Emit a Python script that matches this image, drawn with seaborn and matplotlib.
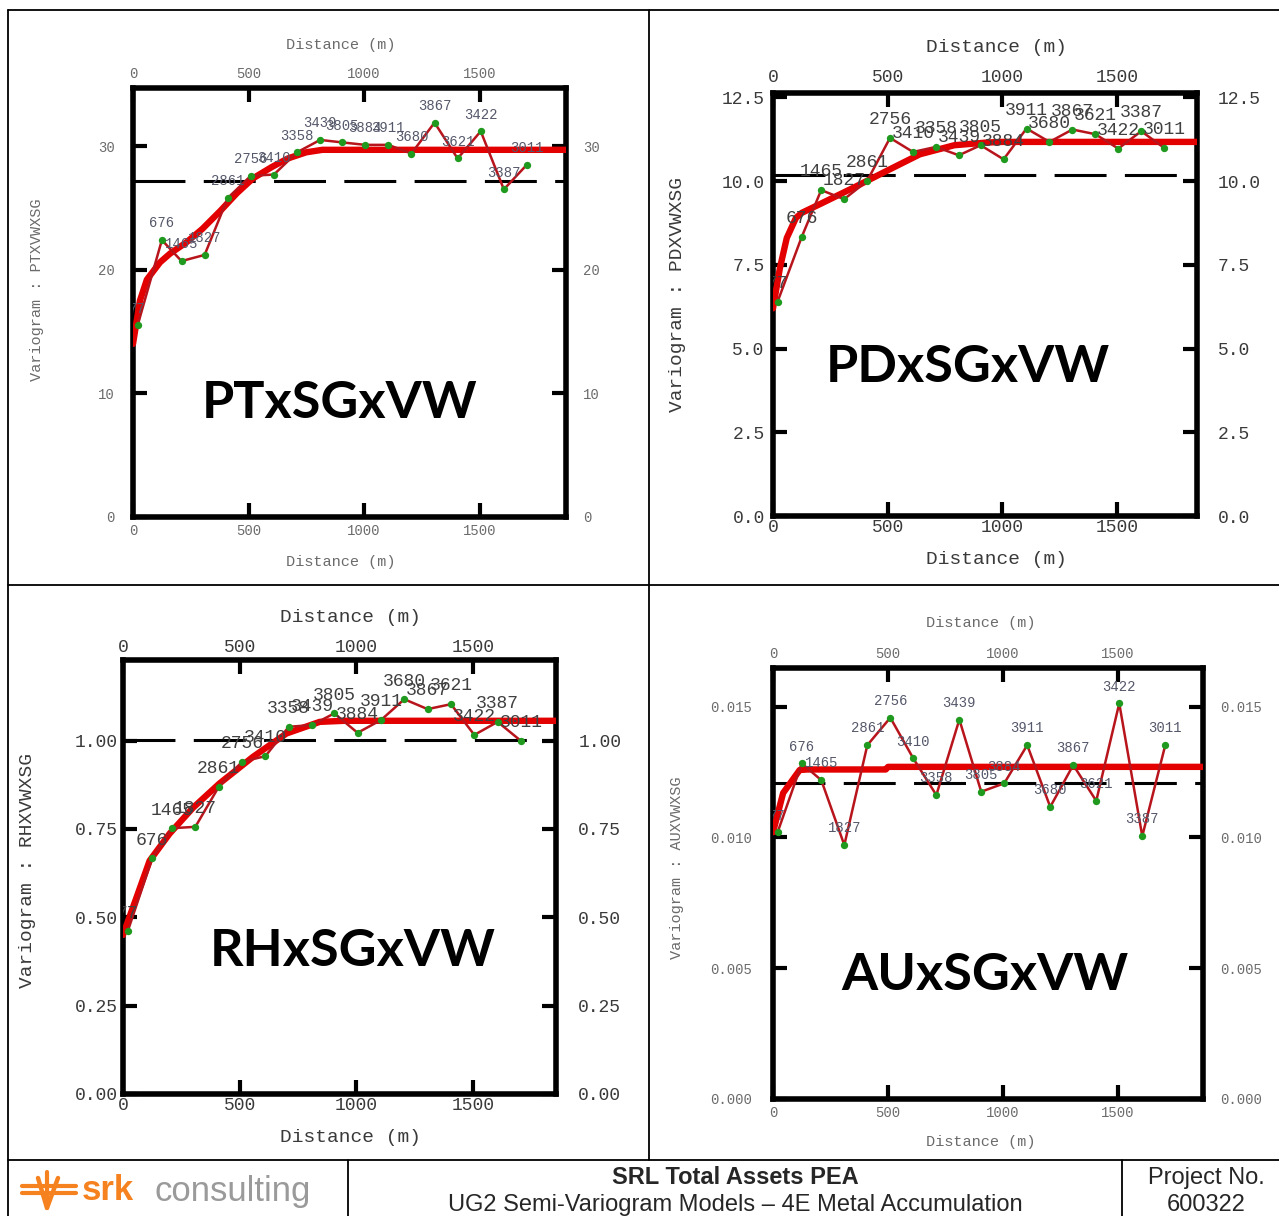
import matplotlib
matplotlib.use("Agg")
import matplotlib.pyplot as plt
from matplotlib.lines import Line2D
from matplotlib.patches import Rectangle
import seaborn as sns

# ---------------------------------------------------------------- data
LAGS = [20, 125, 210, 310, 410, 510, 610, 710, 810, 905, 1005, 1105,
        1205, 1305, 1405, 1505, 1605, 1705]
PAIRS = ["77", "676", "1465", "1827", "2861", "2756", "3410", "3358", "3439",
         "3805", "3884", "3911", "3680", "3867", "3621", "3422", "3387", "3011"]

PT_GAMMA = [15.5, 22.4, 20.7, 21.2, 25.8, 27.6, 27.7, 29.5, 30.5, 30.3, 30.1,
            30.1, 29.4, 31.9, 29.0, 31.2, 26.5, 28.5]
PD_GAMMA = [6.4, 8.33, 9.73, 9.46, 10.0, 11.29, 10.87, 11.02, 10.77, 11.07,
            10.65, 11.57, 11.17, 11.54, 11.40, 10.97, 11.49, 10.99]
RH_GAMMA = [0.46, 0.667, 0.752, 0.756, 0.869, 0.940, 0.956, 1.039, 1.044,
            1.077, 1.022, 1.058, 1.117, 1.089, 1.103, 1.016, 1.053, 0.999]
AU_GAMMA = [0.0102, 0.01283, 0.01219, 0.00971, 0.01353, 0.01458, 0.01302,
            0.01162, 0.01451, 0.01175, 0.01207, 0.01353, 0.01117, 0.01277,
            0.01140, 0.01513, 0.01005, 0.01353]

# fitted models (distance, gamma)
PT_MODEL_H = [0, 30, 60, 117, 160, 230, 300, 380, 450, 520, 600, 670, 750, 820, 1900]
PT_MODEL_G = [14.0, 17.5, 19.2, 20.6, 21.3, 22.2, 23.3, 24.8, 26.2, 27.4, 28.3,
              29.0, 29.5, 29.7, 29.7]
PD_MODEL_H = [0, 30, 60, 100, 125, 210, 350, 500, 640, 790, 930, 1000, 1900]
PD_MODEL_G = [6.2, 7.4, 8.3, 8.9, 9.05, 9.33, 9.8, 10.32, 10.8, 11.07, 11.15,
              11.17, 11.17]
RH_MODEL_H = [0, 60, 114, 200, 300, 414, 557, 700, 843, 950, 1900]
RH_MODEL_G = [0.45, 0.56, 0.66, 0.737, 0.81, 0.879, 0.954, 1.02, 1.053, 1.056, 1.056]
AU_MODEL_H = [0, 44, 116, 150, 490, 500, 1900]
AU_MODEL_G = [0.0102, 0.0117, 0.01258, 0.0126, 0.0126, 0.0127, 0.0127]

# sample variances (dashed)
PT_VAR, PD_VAR, RH_VAR, AU_VAR = 27.2, 10.17, 1.003, 0.01207

X_TICKS = [0, 500, 1000, 1500]
PT_YTICKS, PT_YLABELS = [0, 10, 20, 30], ["0", "10", "20", "30"]
PD_YTICKS, PD_YLABELS = [0, 2.5, 5, 7.5, 10, 12.5], ["0.0", "2.5", "5.0", "7.5", "10.0", "12.5"]
RH_YTICKS, RH_YLABELS = [0, 0.25, 0.5, 0.75, 1.0], ["0.00", "0.25", "0.50", "0.75", "1.00"]
AU_YTICKS, AU_YLABELS = [0, 0.005, 0.010, 0.015], ["0.000", "0.005", "0.010", "0.015"]

# ---------------------------------------------------------------- figure
W, H = 1279, 1216
sns.set_style("white")
plt.rcParams["font.family"] = ["DejaVu Sans"]
fig = plt.figure(figsize=(W / 100, H / 100), dpi=100)
fig.patch.set_facecolor("white")

MONO = "Liberation Mono"
MODEL_RED = "#e30000"
DATA_RED = "#b8141c"
GREEN = "#1f9a1f"


def fx(px):
    return px / W


def fy(py):
    return 1 - py / H


def panel(box, xmax, ymax, gamma, model_h, model_g, var, yticks, ylabels,
          name, name_xy, small, pads, label_xy):
    left, top, right, bottom = box
    ax = fig.add_axes([fx(left), fy(bottom), (right - left) / W, (bottom - top) / H])
    fs_tick = 10 if small else 13
    tcol = "#6b6b6b" if small else "#3a3a3a"
    fs_pt = 10 if small else 13
    pcol = "#55586a" if small else "#404040"

    ax.axhline(var, color="black", lw=2.2, ls=(0, (17, 6)), zorder=2)
    sns.lineplot(x=model_h, y=model_g, ax=ax, color=MODEL_RED, lw=4.6,
                 sort=False, estimator=None, zorder=3)
    sns.lineplot(x=LAGS, y=gamma, ax=ax, color=DATA_RED, lw=1.8,
                 sort=False, estimator=None, zorder=4)
    sns.scatterplot(x=LAGS, y=gamma, ax=ax, color=GREEN, s=28,
                    edgecolor=GREEN, linewidth=0, zorder=5)
    for h, g, lab in zip(LAGS, gamma, PAIRS):
        ax.annotate(lab, (h, g), xytext=(0, 7), textcoords="offset points",
                    ha="center", va="bottom", fontsize=fs_pt, color=pcol,
                    family=MONO, annotation_clip=False, clip_on=True, zorder=6)

    ax.set_xlim(0, xmax)
    ax.set_ylim(0, ymax)
    ax.set_xlabel("")
    ax.set_ylabel("")
    ax.set_xticks(X_TICKS, labels=[str(v) for v in X_TICKS])
    ax.set_yticks(yticks, labels=ylabels)
    for sp in ax.spines.values():
        sp.set_linewidth(4)
        sp.set_color("black")
        sp.set_visible(True)
    xb, xt, yl, yr = pads
    ax.tick_params(direction="in", length=10, width=3, color="black",
                   top=True, right=True, bottom=True, left=True,
                   labeltop=False, labelright=False, labelsize=fs_tick,
                   labelcolor=tcol, labelfontfamily=MONO)
    ax.tick_params(axis="x", pad=xb)
    ax.tick_params(axis="y", pad=yl)

    sx = ax.secondary_xaxis("top")
    sx.set_xticks(X_TICKS, labels=[str(v) for v in X_TICKS])
    sx.tick_params(length=0, pad=xt, labelsize=fs_tick, labelcolor=tcol,
                   labelfontfamily=MONO)
    sx.spines["top"].set_visible(False)
    sy = ax.secondary_yaxis("right")
    sy.set_yticks(yticks, labels=ylabels)
    sy.tick_params(length=0, pad=yr, labelsize=fs_tick, labelcolor=tcol,
                   labelfontfamily=MONO)
    sy.spines["right"].set_visible(False)

    ax.text(fx(name_xy[0]), fy(name_xy[1]), name, transform=fig.transFigure,
            ha="center", va="center", fontsize=37.5, fontweight="bold",
            family="Lato", color="black", zorder=7)

    (tx, tty, bty, ylx, yly) = label_xy
    fsl = 11 if small else 14
    for yy in (tty, bty):
        fig.text(fx(tx), fy(yy), "Distance (m)", ha="center", va="center",
                 fontsize=fsl, family=MONO, color=tcol)
    return ax, fsl, tcol, ylx, yly


specs = [
    dict(box=(133, 88, 566, 517), xmax=1874, ymax=34.7, gamma=PT_GAMMA,
         model_h=PT_MODEL_H, model_g=PT_MODEL_G, var=PT_VAR,
         yticks=PT_YTICKS, ylabels=PT_YLABELS, name="PTxSGxVW",
         name_xy=(340, 403), small=True, pads=(5, 5, 13, 12),
         label_xy=(341, 45, 562, 37, 290), ylab="Variogram : PTXVWXSG"),
    dict(box=(773, 93, 1197, 516), xmax=1848, ymax=12.63, gamma=PD_GAMMA,
         model_h=PD_MODEL_H, model_g=PD_MODEL_G, var=PD_VAR,
         yticks=PD_YTICKS, ylabels=PD_YLABELS, name="PDxSGxVW",
         name_xy=(968, 368), small=False, pads=(2, 5, 6, 15),
         label_xy=(997, 47, 559, 678, 295), ylab="Variogram : PDXVWXSG"),
    dict(box=(123, 660, 556, 1094), xmax=1855, ymax=1.228, gamma=RH_GAMMA,
         model_h=RH_MODEL_H, model_g=RH_MODEL_G, var=RH_VAR,
         yticks=RH_YTICKS, ylabels=RH_YLABELS, name="RHxSGxVW",
         name_xy=(353, 951), small=False, pads=(2, 3, 4, 16),
         label_xy=(350, 617, 1138, 28, 870), ylab="Variogram : RHXVWXSG"),
    dict(box=(773, 668, 1203, 1099), xmax=1869, ymax=0.01648, gamma=AU_GAMMA,
         model_h=AU_MODEL_H, model_g=AU_MODEL_G, var=AU_VAR,
         yticks=AU_YTICKS, ylabels=AU_YLABELS, name="AUxSGxVW",
         name_xy=(985, 976), small=True, pads=(5, 5, 15, 12),
         label_xy=(981, 623, 1142, 677, 868), ylab="Variogram : AUXVWXSG"),
]

for sp in specs:
    ylab = sp.pop("ylab")
    ax, fsl, tcol, ylx, yly = panel(**sp)
    fig.text(fx(ylx), fy(yly), ylab, rotation=90, ha="center", va="center",
             fontsize=fsl, family=MONO, color=tcol)

# the right-hand labels of the gold panel run past the page edge
fig.add_artist(Rectangle((fx(1266), fy(1150)), 1, (1150 - 600) / H,
                         transform=fig.transFigure, facecolor="white",
                         edgecolor="none", zorder=20))

# ---------------------------------------------------------------- frame
def hline(y, x0, x1, lw=1.3):
    fig.add_artist(Line2D([fx(x0), fx(x1)], [fy(y), fy(y)], color="black",
                          lw=lw, transform=fig.transFigure, zorder=30))


def vline(x, y0, y1, lw=1.3):
    fig.add_artist(Line2D([fx(x), fx(x)], [fy(y0), fy(y1)], color="black",
                          lw=lw, transform=fig.transFigure, zorder=30))


hline(10, 8, 1279)
hline(585, 8, 1279)
hline(1160, 8, 1279)
vline(8, 10, 1216)
vline(649, 10, 1160)
vline(348, 1160, 1216)
vline(1122, 1160, 1216)

# ---------------------------------------------------------------- footer
ORANGE = "#f5821f"
for yy in (1186, 1193):
    fig.add_artist(Line2D([fx(22), fx(76)], [fy(yy), fy(yy)], color=ORANGE,
                          lw=3, transform=fig.transFigure, zorder=31))
fig.add_artist(Line2D([fx(38), fx(47), fx(58)], [fy(1178), fy(1208), fy(1178)],
                      color=ORANGE, lw=3.2, transform=fig.transFigure, zorder=31))
fig.add_artist(Line2D([fx(47), fx(47)], [fy(1172), fy(1208)], color=ORANGE,
                      lw=3, transform=fig.transFigure, zorder=31))
fig.text(fx(82), fy(1191), "srk", ha="left", va="center", fontsize=25,
         fontweight="bold", family="Liberation Sans", color=ORANGE)
fig.text(fx(154), fy(1191), "consulting", ha="left", va="center", fontsize=25,
         family="Liberation Sans", color="#9a9a9a")

NARROW = ["Liberation Sans Narrow", "Liberation Sans"]
fig.text(fx(735), fy(1178), "SRL Total Assets PEA", ha="center", va="center",
         fontsize=17, fontweight="bold", family=NARROW)
fig.text(fx(735), fy(1205), "UG2 Semi-Variogram Models \u2013 4E Metal Accumulation",
         ha="center", va="center", fontsize=17, family=NARROW)
fig.text(fx(1206), fy(1178), "Project No.", ha="center", va="center",
         fontsize=17, family=NARROW)
fig.text(fx(1206), fy(1205), "600322", ha="center", va="center",
         fontsize=17, family=NARROW)

fig.savefig("out.png", dpi=100, facecolor="white")
